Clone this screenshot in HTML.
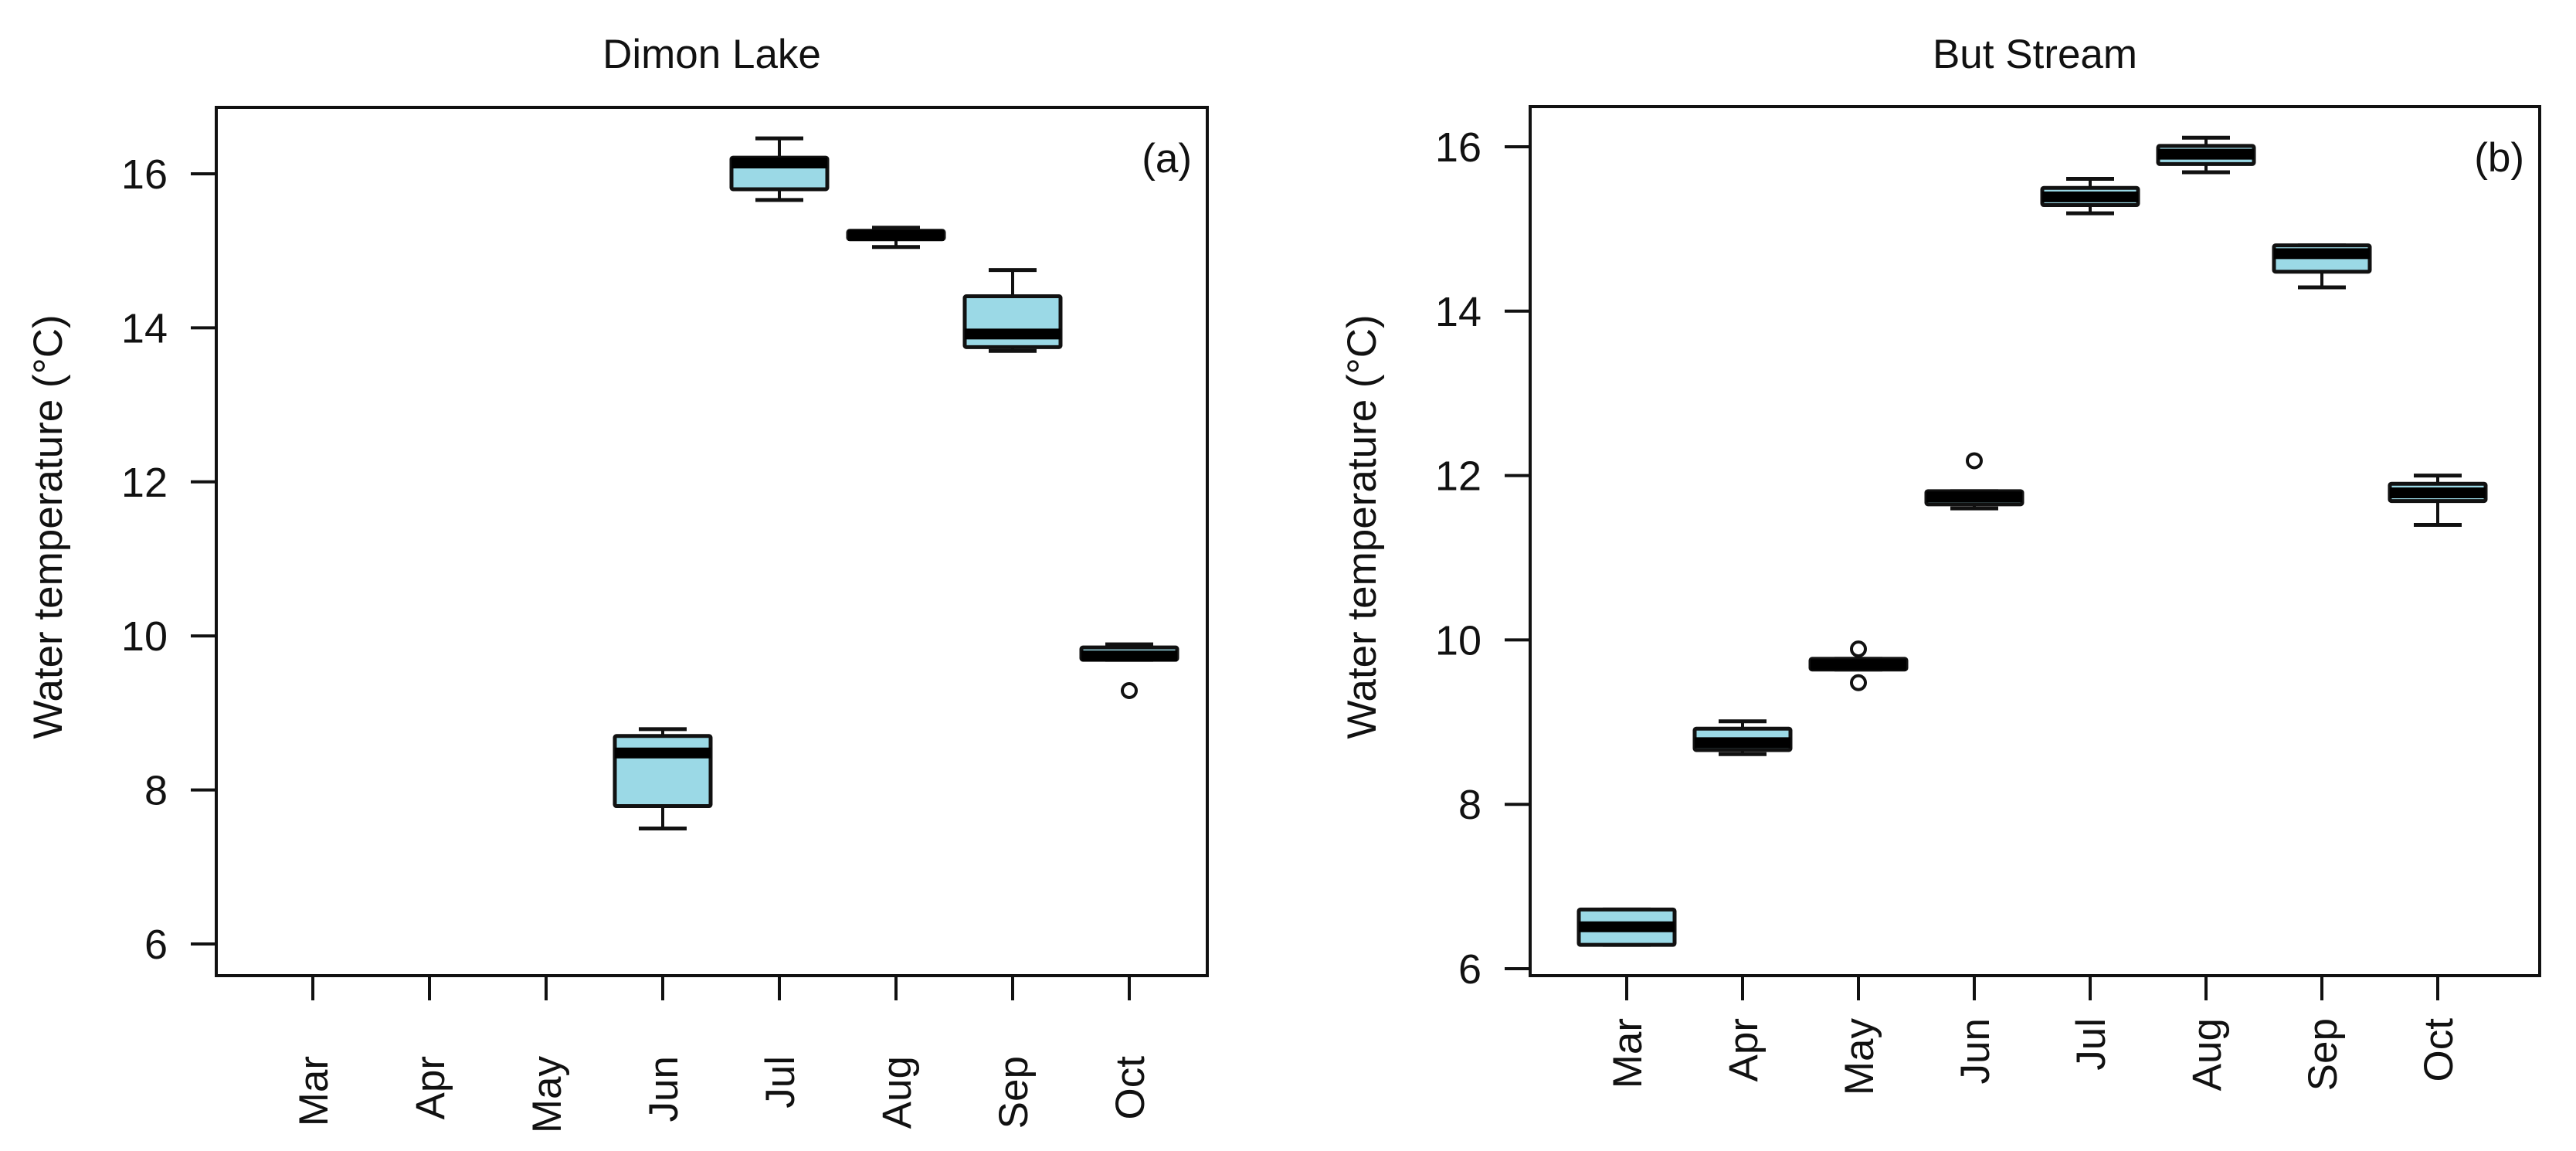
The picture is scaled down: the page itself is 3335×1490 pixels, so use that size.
<!DOCTYPE html>
<html><head><meta charset="utf-8">
<style>
html,body{margin:0;padding:0;background:#fff;}
svg{display:block;font-family:"Liberation Sans",Arial,sans-serif;}
</style></head>
<body>
<svg id="chart" width="3335" height="1490" viewBox="0 0 3335 1490" xmlns="http://www.w3.org/2000/svg">
<rect x="0" y="0" width="3335" height="1490" fill="#fff"/>
</svg>
<script>
const months = ["Mar","Apr","May","Jun","Jul","Aug","Sep","Oct"];
const yTicks = [6,8,10,12,14,16];
// Dimon Lake (a)
const lakeIdx = [3,4,5,6,7];
const lakeLow = [7.50,15.66,15.05,13.70,9.69];
const lakeQ1 = [7.79,15.80,15.15,13.75,9.69];
const lakeMed = [8.48,16.14,15.20,13.92,9.74];
const lakeQ3 = [8.70,16.21,15.26,14.41,9.85];
const lakeHigh = [8.79,16.46,15.30,14.75,9.89];
const lakeOutIdx = [7];
const lakeOutVal = [9.29];
// But Stream (b)
const streamIdx = [0,1,2,3,4,5,6,7];
const streamLow = [6.29,8.61,9.64,11.60,15.19,15.69,14.29,11.40];
const streamQ1 = [6.29,8.66,9.64,11.65,15.29,15.79,14.48,11.69];
const streamMed = [6.51,8.75,9.70,11.74,15.39,15.91,14.70,11.79];
const streamQ3 = [6.72,8.92,9.77,11.81,15.50,16.01,14.80,11.90];
const streamHigh = [6.72,9.01,9.77,11.81,15.61,16.11,14.80,12.00];
const streamOutIdx = [2,2,3];
const streamOutVal = [9.89,9.48,12.18];

const NS = "http://www.w3.org/2000/svg";
const svg = document.getElementById("chart");
function mk(tag, attrs, parent){
  const e = document.createElementNS(NS, tag);
  for (const k in attrs) e.setAttribute(k, attrs[k]);
  (parent||svg).appendChild(e);
  return e;
}

function panel(cfg){
  const g = mk("g", {});
  
  
  const yS = v => cfg.y16 + (16 - v) * cfg.perUnit;
  const xS = i => cfg.x0 + cfg.step * i;
  const fr = mk("rect", {x:cfg.L, y:cfg.T, width:cfg.R-cfg.L, height:cfg.B-cfg.T, fill:"none", stroke:"#111", "stroke-width":4}, g);
  
  
  const t = mk("text", {x:(cfg.L+cfg.R)/2, y:88, "text-anchor":"middle", "font-size":53, fill:"#111"}, g);
  t.textContent = cfg.title;
  
  
  const pl = mk("text", {x:cfg.R-20, y:cfg.T+84, "text-anchor":"end", "font-size":53, fill:"#111"}, g);
  pl.textContent = cfg.tag;
  
  
  const yt = mk("text", {x:0, y:0, "text-anchor":"middle", "font-size":53, fill:"#111", transform:`translate(${cfg.L-200},682) rotate(-90)`}, g);
  yt.textContent = "Water temperature (°C)";
  
  
  yTicks.forEach(v => {
    const y = yS(v);
    const tk = mk("line", {x1:cfg.L-33, x2:cfg.L, y1:y, y2:y, stroke:"#111", "stroke-width":4}, g);
    
    
    const tl = mk("text", {x:cfg.L-63, y:y+19, "text-anchor":"end", "font-size":54, fill:"#111"}, g);
    tl.textContent = v;
    
    
  });
  months.forEach((m, i) => {
    const x = xS(i);
    const tk = mk("line", {x1:x, x2:x, y1:cfg.B, y2:cfg.B+32, stroke:"#111", "stroke-width":4}, g);
    
    
    const tl = mk("text", {x:0, y:0, "text-anchor":"end", "font-size":53, fill:"#111", transform:`translate(${x+19},${cfg.labTop}) rotate(-90)`}, g);
    tl.textContent = m;
    
    
  });
  const bw = 124, cw = 62;
  cfg.idx.forEach((mi, k) => {
    const x = xS(mi);
    const bg = mk("g", {}, g);
    
    
    const yl = yS(cfg.low[k]), y1 = yS(cfg.q1[k]), ym = yS(cfg.med[k]), y3 = yS(cfg.q3[k]), yh = yS(cfg.high[k]);
    mk("line", {x1:x, x2:x, y1:yh, y2:y3, stroke:"#111", "stroke-width":4}, bg);
    mk("line", {x1:x, x2:x, y1:y1, y2:yl, stroke:"#111", "stroke-width":4}, bg);
    mk("line", {x1:x-cw/2, x2:x+cw/2, y1:yh, y2:yh, stroke:"#111", "stroke-width":5}, bg);
    mk("line", {x1:x-cw/2, x2:x+cw/2, y1:yl, y2:yl, stroke:"#111", "stroke-width":5}, bg);
    mk("rect", {x:x-bw/2, y:y3, width:bw, height:Math.max(1, y1-y3), fill:"#9bd9e6", stroke:"#111", "stroke-width":5, rx:2}, bg);
    mk("line", {x1:x-bw/2, x2:x+bw/2, y1:ym, y2:ym, stroke:"#000", "stroke-width":14}, bg);
  });
  cfg.outIdx.forEach((mi, k) => {
    const c = mk("circle", {cx:xS(mi), cy:yS(cfg.outVal[k]), r:9, fill:"none", stroke:"#111", "stroke-width":4}, g);
    
    
  });
}

panel({name:"panel-dimon-lake", title:"Dimon Lake", tag:"(a)", L:280, R:1563, T:139, B:1263,
  y16:225, perUnit:99.7, x0:405, step:151, labTop:1367,
  idx:lakeIdx, low:lakeLow, q1:lakeQ1, med:lakeMed, q3:lakeQ3, high:lakeHigh, outIdx:lakeOutIdx, outVal:lakeOutVal});
panel({name:"panel-but-stream", title:"But Stream", tag:"(b)", L:1981, R:3288, T:138, B:1263,
  y16:190, perUnit:106.4, x0:2106, step:150, labTop:1318,
  idx:streamIdx, low:streamLow, q1:streamQ1, med:streamMed, q3:streamQ3, high:streamHigh, outIdx:streamOutIdx, outVal:streamOutVal});
</script>
</body></html>
